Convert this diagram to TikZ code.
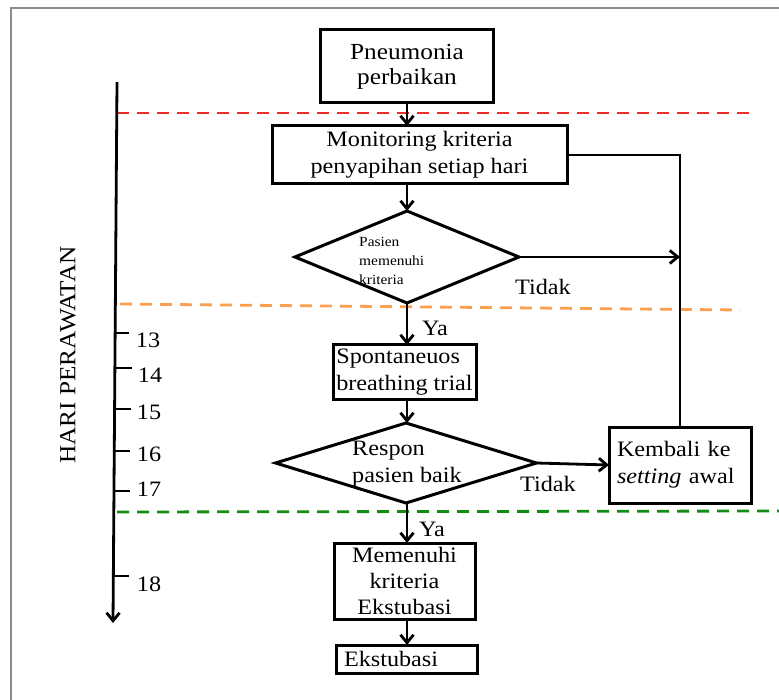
\documentclass[tikz,border=0pt]{standalone}
\usepackage{fontspec}
\setmainfont{Liberation Serif}[FakeStretch=1.1]
\usetikzlibrary{arrows.meta,shapes.geometric,calc}
\definecolor{dred}{RGB}{235,45,35}
\definecolor{dorange}{RGB}{250,160,80}
\definecolor{dgreen}{RGB}{20,140,20}
\begin{document}
\begin{tikzpicture}[x=1pt,y=-1pt,
  font=\fontsize{22}{26}\selectfont,
  box/.style={draw, line width=3pt, inner sep=0pt, outer sep=0pt},
  dia/.style={draw, diamond, line width=3pt, inner sep=0pt, outer sep=0pt},
  arr/.style={-{Straight Barb[length=8pt,width=13pt]}, line width=2.8pt},
  conn/.style={line width=2.8pt},
  phase/.style={line width=2.8pt, dash pattern=on 12pt off 8pt},
  lab/.style={inner sep=0pt}]
\useasboundingbox (0,0) rectangle (779,700);
% outer frame
\coordinate (f0) at (11,700); \coordinate (f1) at (11,8); \coordinate (f2) at (779,8);
\draw[black!45, line width=1.6pt] (f0) -- (f1) -- (f2);

% phase lines
\coordinate (r0) at (117,113); \coordinate (r1) at (750,113);
\coordinate (o0) at (120,304); \coordinate (o1) at (740,310);
\coordinate (g0) at (117,512); \coordinate (g1) at (779,511);
\draw[phase, dred] (r0) -- (r1);
\draw[phase, dorange] (o0) -- (o1);
\draw[phase, dgreen] (g0) -- (g1);

% timeline
\coordinate (tl0) at (117,82); \coordinate (tl1) at (113,623);
\draw[arr] (tl0) -- (tl1);
\foreach \yy/\lab/\lx/\ly/\tl in {333/13/148/340/14, 368/14/150/375/17, 409/15/149/412/16, 451/16/149/454/16, 491/17/149/489/16, 576/18/149/584/16}{
  \coordinate (tk\lab) at ($(tl0)!{(\yy-82)/541}!(tl1)$);
  \draw[conn] (tk\lab) -- ++(\tl,0);
  \node[lab] (n\lab) at (\lx,\ly) {\lab};
}
\node[lab, rotate=90, font=\fontsize{23}{26}\selectfont] (hari) at (68,355) {HARI PERAWATAN};

% nodes
\node[box, minimum width=173pt, minimum height=73pt, align=center, font=\fontsize{23}{25}\selectfont] (pneu) at (407,66.5) {Pneumonia\\perbaikan};
\node[box, minimum width=295pt, minimum height=58pt, align=center, font=\fontsize{22}{27}\selectfont] (mon) at (419.5,155) {Monitoring kriteria\\penyapihan setiap hari};
\node[dia, minimum width=224pt, minimum height=92pt] (d1) at (407,257) {};
\node[lab, align=left, anchor=west, font=\fontsize{14}{19}\selectfont] (t1) at (359,261) {Pasien\\memenuhi\\kriteria};
\node[box, minimum width=143pt, minimum height=55pt, align=left, font=\fontsize{22}{27}\selectfont] (sbt) at (404.5,372.5) {Spontaneuos\\breathing trial};
\node[dia, minimum width=261pt, minimum height=80pt] (d2) at (406,463) {};
\node[lab, align=left, anchor=west, font=\fontsize{22}{27}\selectfont] (t2) at (352,464) {Respon\\pasien baik};
\node[box, minimum width=142pt, minimum height=76pt, text width=126pt, align=left, inner xsep=8pt, font=\fontsize{22}{27}\selectfont] (kem) at (680,465) {Kembali ke\\\textit{setting} awal};
\node[box, minimum width=141pt, minimum height=76pt, align=center, font=\fontsize{22}{26}\selectfont] (mem) at (404.5,581) {Memenuhi\\kriteria\\Ekstubasi};
\node[box, minimum width=141pt, minimum height=28pt, text width=125pt, align=left, inner xsep=8pt] (eks) at (406.5,659) {Ekstubasi};

% labels
\node[lab] (tidak1) at (543,287) {Tidak};
\node[lab] (ya1) at (435,328) {Ya};
\node[lab] (tidak2) at (548,484) {Tidak};
\node[lab] (ya2) at (432,529) {Ya};

% connectors
\draw[arr] (pneu.south) -- (pneu.south |- mon.north);
\draw[arr] (d1.north |- mon.south) -- (d1.north);
\draw[arr] (d1.south) -- (d1.south |- sbt.north);
\draw[arr] (d1.south |- sbt.south) -- (d2.north -| d1.south);
\draw[arr] (d2.south -| d1.south) -- (d1.south |- mem.north);
\draw[arr] (d1.south |- mem.south) -- (d1.south |- eks.north);
\draw[arr] (d2.east) -- (kem.west);
\coordinate (j1) at (kem.north |- d1.east);
\draw[arr] (d1.east) -- (j1);
\draw[conn] (kem.north) -- (kem.north |- mon.east) -- (mon.east);
\end{tikzpicture}
\end{document}
